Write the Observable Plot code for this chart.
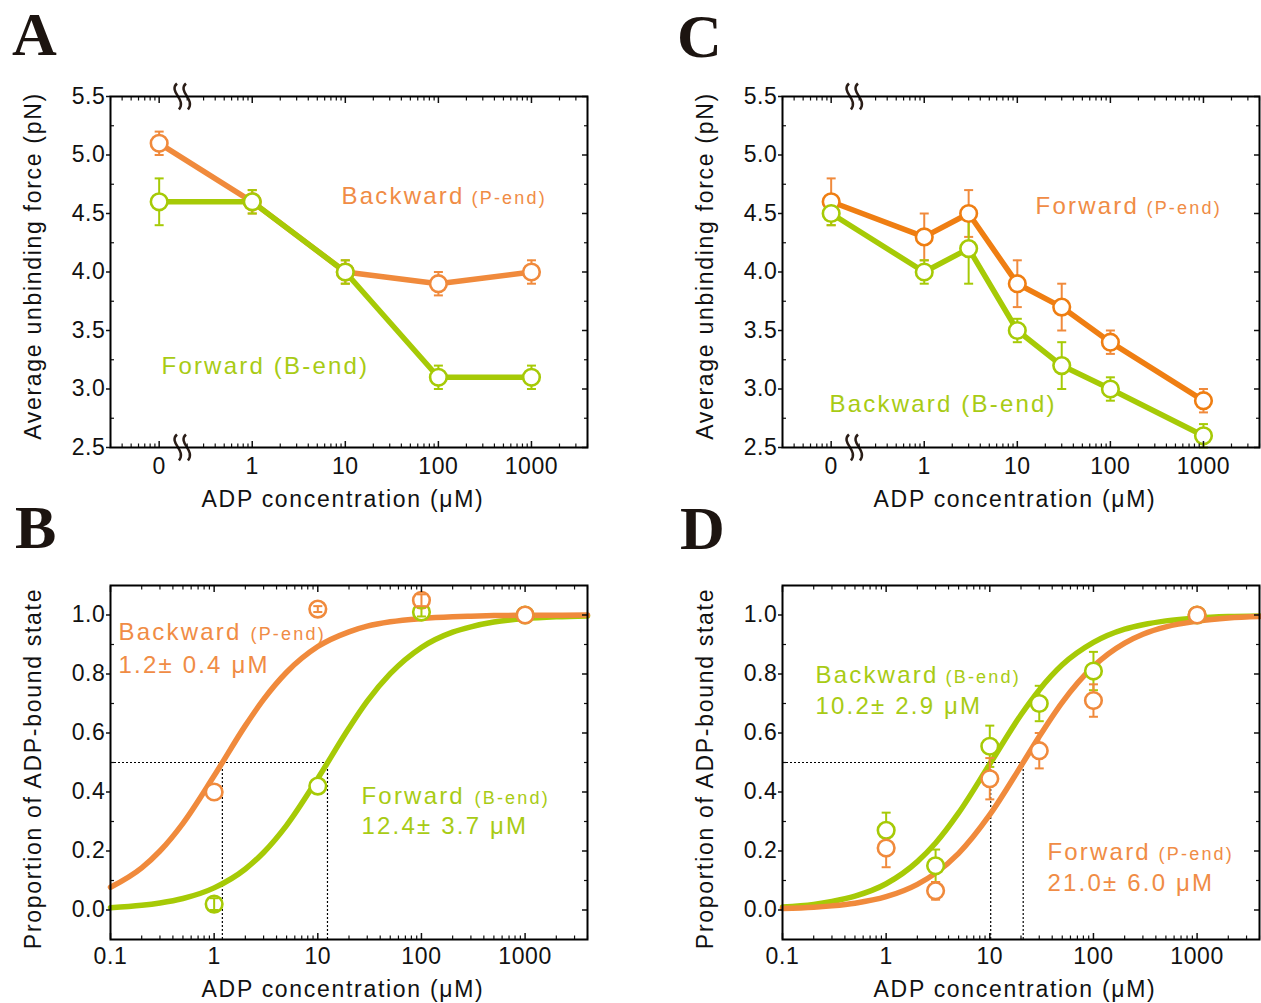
<!DOCTYPE html>
<html><head><meta charset="utf-8">
<script src="https://cdn.jsdelivr.net/npm/d3@7"></script>
<script src="https://cdn.jsdelivr.net/npm/@observablehq/plot@0.6"></script>
<style>
html,body{margin:0;padding:0;background:#fff;overflow:hidden}
#root{position:relative;width:1261px;height:1003px;font-family:'Liberation Sans',Arial,sans-serif}
.panel{position:absolute}
.letter{position:absolute;font-family:'Liberation Serif','Times New Roman',serif;font-weight:bold;font-size:62px;line-height:62px;color:#1c1410}
.panel svg text{letter-spacing:1.7px}
.panel svg g[aria-label$="tick label"] text{letter-spacing:0.6px}
.panel svg g[font-size="24"] text,.panel svg g[font-size="18"] text{letter-spacing:2.2px}
</style></head><body><div id="root"></div>
<script>
// ---------- Panel A : average unbinding force vs ADP ----------
const concA = [0, 1, 10, 100, 1000];
const backwardP_A = [5.1, 4.6, 4.0, 3.9, 4.0];
const backwardP_A_err = [0.1, 0.1, 0.1, 0.1, 0.1];
const forwardB_A = [4.6, 4.6, 4.0, 3.1, 3.1];
const forwardB_A_err = [0.2, 0.1, 0.1, 0.1, 0.1];

// ---------- Panel C ----------
const concC = [0, 1, 3, 10, 30, 100, 1000];
const forwardP_C = [4.6, 4.3, 4.5, 3.9, 3.7, 3.4, 2.9];
const forwardP_C_err = [0.2, 0.2, 0.2, 0.2, 0.2, 0.1, 0.1];
const backwardB_C = [4.5, 4.0, 4.2, 3.5, 3.2, 3.0, 2.6];
const backwardB_C_err = [0.1, 0.1, 0.3, 0.1, 0.2, 0.1, 0.1];

// ---------- Panel B : proportion of ADP-bound state ----------
const concB = [1, 10, 100, 1000];
const backwardP_B = [0.40, 1.02, 1.05, 1.0];
const backwardP_B_err = [0, 0.01, 0.02, 0];
const forwardB_B = [0.02, 0.42, 1.01, 1.0];
const forwardB_B_err = [0.02, 0, 0.015, 0];
const kdBackwardP_B = 1.2;
const kdForwardB_B = 12.4;

// ---------- Panel D ----------
const concD = [1, 3, 10, 30, 100, 1000];
const backwardB_D = [0.27, 0.15, 0.555, 0.70, 0.81, 1.0];
const backwardB_D_err = [0.06, 0.055, 0.07, 0.06, 0.065, 0];
const forwardP_D = [0.21, 0.065, 0.445, 0.54, 0.71, 1.0];
const forwardP_D_err = [0.065, 0.03, 0.07, 0.06, 0.055, 0];
const kdBackwardB_D = 10.2;
const kdForwardP_D = 21.0;

// fitted binding curves
const curveConc = [0.1,0.2,0.3,0.5,1,2,3,5,10,20,30,50,100,200,300,500,1000,2000,4000];
const fitBackwardP_B = [0.077,0.143,0.200,0.294,0.455,0.625,0.714,0.806,0.893,0.943,0.962,0.977,0.988,0.994,0.996,0.998,0.999,0.999,1.000];
const fitForwardB_B = [0.008,0.016,0.024,0.039,0.075,0.139,0.195,0.287,0.446,0.617,0.708,0.801,0.890,0.942,0.960,0.976,0.988,0.994,0.997];
const fitBackwardB_D = [0.010,0.019,0.029,0.047,0.089,0.164,0.227,0.329,0.495,0.662,0.746,0.831,0.907,0.952,0.967,0.980,0.990,0.995,0.997];
const fitForwardP_D = [0.005,0.009,0.014,0.023,0.045,0.087,0.125,0.192,0.323,0.488,0.588,0.704,0.826,0.905,0.935,0.960,0.979,0.990,0.995];

// axis ticks
const forceTicks = [2.5, 3.0, 3.5, 4.0, 4.5, 5.0, 5.5];
const forceMinor = [2.75, 3.25, 3.75, 4.25, 4.75, 5.25];
const propTicks = [0.0, 0.2, 0.4, 0.6, 0.8, 1.0];
const propMinor = [0.1, 0.3, 0.5, 0.7, 0.9];
const concTicks = [0.1, 1, 10, 100, 1000];
const ZERO_POS = 0.1;   // "0" concentration is drawn at the axis-break position
const BREAK_POS = 0.178;

const ORANGE = "#F08A3C", ORANGE_C = "#EF7E12", GREEN = "#A6CA06";
const ORANGE_T = "#F08C45", GREEN_T = "#A8CB14";

const series = (conc, vals, errs) => conc.map((c, i) => ({x: c === 0 ? ZERO_POS : c, y: vals[i], err: errs[i]}));
const curve = (vals) => curveConc.map((c, i) => ({x: c, y: vals[i]}));
const logMinor = (lo, hi) => d3.scaleLog().domain([lo, hi]).ticks().filter(v => {const e = Math.log10(v); return Math.abs(e - Math.round(e)) > 1e-9 && v >= lo && v <= hi;});

const capSymbol = {draw(ctx, size) {const w = Math.sqrt(size / Math.PI); ctx.moveTo(-w, 0); ctx.lineTo(w, 0);}};
// axis-break glyph: two S-shaped strokes
const breakSymbol = {draw(ctx) {
  for (const ox of [-4.5, 4.5]) {
    ctx.moveTo(ox - 1, -13);
    ctx.bezierCurveTo(ox - 10, -5, ox + 9, 3, ox + 1, 13);
  }
}};

function errMarks(rows, color) {
  const r = rows.filter(d => d.err > 0);
  return [
    Plot.ruleX(r, {x: "x", y1: d => d.y - d.err, y2: d => d.y + d.err, stroke: color, strokeWidth: 2}),
    Plot.dot(r, {x: "x", y: d => d.y + d.err, symbol: capSymbol, r: 4.5, stroke: color, strokeWidth: 2, fill: "none"}),
    Plot.dot(r, {x: "x", y: d => d.y - d.err, symbol: capSymbol, r: 4.5, stroke: color, strokeWidth: 2, fill: "none"})
  ];
}
const dots = (rows, color) => Plot.dot(rows, {x: "x", y: "y", r: 8.3, fill: "white", stroke: color, strokeWidth: 2.6});
const label = (text, x, y, color, size) => Plot.text([text], {x: () => x, y: () => y, text: d => d, fill: color, fontSize: size, textAnchor: "start", lineAnchor: "bottom"});

function frameMarks(cfg) {
  const xMinor = logMinor(cfg.xDomain[0], cfg.xDomain[1]);
  return [
    Plot.axisX(concTicks, {anchor: "bottom", tickSize: 0, tickPadding: cfg.xPad, tickFormat: cfg.xFormat, fontSize: 23, fill: "#111", label: null}),
    Plot.axisX(concTicks, {anchor: "bottom", tickSize: -6, fill: "none", strokeWidth: 1.5, label: null}),
    Plot.axisX(xMinor, {anchor: "bottom", tickSize: -3.5, fill: "none", strokeWidth: 1.2, label: null}),
    Plot.axisX(concTicks, {anchor: "top", tickSize: -6, fill: "none", strokeWidth: 1.5, label: null}),
    Plot.axisX(xMinor, {anchor: "top", tickSize: -3.5, fill: "none", strokeWidth: 1.2, label: null}),
    Plot.axisY(cfg.yTicks, {anchor: "left", tickSize: 0, tickPadding: 5, tickFormat: d => d.toFixed(1), fontSize: 23, fill: "#111", label: null}),
    Plot.axisY(cfg.yTicks, {anchor: "left", tickSize: 4, fill: "none", strokeWidth: 1.5, label: null}),
    Plot.axisY(cfg.yMinor, {anchor: "left", tickSize: -4, fill: "none", strokeWidth: 1.2, label: null}),
    Plot.axisY(cfg.yTicks, {anchor: "right", tickSize: -6, fill: "none", strokeWidth: 1.5, label: null}),
    Plot.axisY(cfg.yMinor, {anchor: "right", tickSize: -4, fill: "none", strokeWidth: 1.2, label: null}),
    Plot.frame({stroke: "#000", strokeWidth: 2}),
    Plot.text([cfg.yTitle], {frameAnchor: "left", textAnchor: "middle", lineAnchor: "middle", rotate: -90, dx: -77, dy: cfg.yTitleDy, fontSize: 23, fill: "#111"}),
    Plot.text(["ADP concentration (μM)"], {frameAnchor: "bottom", textAnchor: "middle", dx: -6, dy: cfg.xTitleDy, lineAnchor: "bottom", fontSize: 23, fill: "#111"})
  ];
}

function makePanel(cfg, dataMarks) {
  const plot = Plot.plot({
    width: cfg.width, height: 520,
    marginLeft: 110, marginRight: cfg.marginRight, marginTop: 96, marginBottom: cfg.marginBottom,
    x: {type: "log", domain: cfg.xDomain, axis: null, label: null},
    y: {domain: cfg.yDomain, axis: null, label: null},
    style: {fontFamily: "'Liberation Sans', Arial, sans-serif", fontSize: "22px", color: "#111", background: "transparent", overflow: "visible"},
    marks: [...dataMarks, ...frameMarks(cfg)]
  });
  const div = document.createElement("div");
  div.className = "panel";
  div.style.left = cfg.left + "px";
  div.style.top = cfg.top + "px";
  div.appendChild(plot);
  document.getElementById("root").appendChild(div);
}

function letter(ch, left, top) {
  const d = document.createElement("div");
  d.className = "letter"; d.textContent = ch;
  d.style.left = left + "px"; d.style.top = top + "px";
  document.getElementById("root").appendChild(d);
}

const forceCfg = {xDomain: [0.03, 4000], yDomain: [2.5, 5.5], yTicks: forceTicks, yMinor: forceMinor,
  xFormat: d => d === ZERO_POS ? "0" : String(d), xPad: 10, marginBottom: 73,
  yTitle: "Average unbinding force (pN)", yTitleDy: -6, xTitleDy: 59};
const propCfg = {xDomain: [0.1, 4000], yDomain: [-0.1, 1.1], yTicks: propTicks, yMinor: propMinor,
  xFormat: d => String(d), xPad: 8, marginBottom: 70,
  yTitle: "Proportion of ADP-bound state", yTitleDy: 6, xTitleDy: 57};

const breakMarks = () => Plot.dot([{x: BREAK_POS, y: 5.5}, {x: BREAK_POS, y: 2.5}],
  {x: "x", y: "y", symbol: breakSymbol, r: 10, stroke: "#2a1d17", strokeWidth: 2.5, fill: "none"});

// Panel A
const aBack = series(concA, backwardP_A, backwardP_A_err);
const aFwd = series(concA, forwardB_A, forwardB_A_err);
makePanel({...forceCfg, left: 0, top: 0, width: 620, marginRight: 33}, [
  Plot.line(aBack, {x: "x", y: "y", stroke: ORANGE, strokeWidth: 5.5}),
  Plot.line(aFwd, {x: "x", y: "y", stroke: GREEN, strokeWidth: 5.5}),
  ...errMarks(aBack, ORANGE), ...errMarks(aFwd, GREEN),
  dots(aBack, ORANGE), dots(aFwd, GREEN),
  label("Backward", 9.1, 4.585, ORANGE_T, 24),
  label("(P-end)", 227, 4.585, ORANGE_T, 18),
  label("Forward (B-end)", 0.106, 3.132, GREEN_T, 24),
  breakMarks()
]);

// Panel C
const cFwd = series(concC, forwardP_C, forwardP_C_err);
const cBack = series(concC, backwardB_C, backwardB_C_err);
makePanel({...forceCfg, left: 672, top: 0, width: 589, marginRight: 2}, [
  Plot.line(cFwd, {x: "x", y: "y", stroke: ORANGE_C, strokeWidth: 5.5}),
  Plot.line(cBack, {x: "x", y: "y", stroke: GREEN, strokeWidth: 5.5}),
  ...errMarks(cFwd, ORANGE), ...errMarks(cBack, GREEN),
  dots(cFwd, ORANGE_C), dots(cBack, GREEN),
  label("Forward", 15.7, 4.50, ORANGE_T, 24),
  label("(P-end)", 244, 4.50, ORANGE_T, 18),
  label("Backward (B-end)", 0.096, 2.80, GREEN_T, 24),
  breakMarks()
]);

// Panel B
const bBack = series(concB, backwardP_B, backwardP_B_err);
const bFwd = series(concB, forwardB_B, forwardB_B_err);
const kdsB = [kdBackwardP_B, kdForwardB_B];
makePanel({...propCfg, left: 0, top: 489, width: 620, marginRight: 33}, [
  Plot.ruleY([0.5], {x1: 0.1, x2: d3.max(kdsB), stroke: "#000", strokeWidth: 1.2, strokeDasharray: "2,2"}),
  Plot.ruleX(kdsB, {y1: -0.1, y2: 0.5, stroke: "#000", strokeWidth: 1.2, strokeDasharray: "2,2"}),
  Plot.line(curve(fitForwardB_B), {x: "x", y: "y", stroke: GREEN, strokeWidth: 5.5, curve: "monotone-x"}),
  Plot.line(curve(fitBackwardP_B), {x: "x", y: "y", stroke: ORANGE, strokeWidth: 5.5, curve: "monotone-x"}),
  dots(bFwd, GREEN), dots(bBack, ORANGE),
  ...errMarks(bFwd, GREEN), ...errMarks(bBack, ORANGE),
  label("Backward", 0.1194, 0.914, ORANGE_T, 24),
  label("(P-end)", 2.24, 0.914, ORANGE_T, 18),
  label("1.2± 0.4 μM", 0.1194, 0.805, ORANGE_T, 24),
  label("Forward", 26.4, 0.361, GREEN_T, 24),
  label("(B-end)", 325, 0.361, GREEN_T, 18),
  label("12.4± 3.7 μM", 26.4, 0.256, GREEN_T, 24)
]);

// Panel D
const dBack = series(concD, backwardB_D, backwardB_D_err);
const dFwd = series(concD, forwardP_D, forwardP_D_err);
const kdsD = [kdBackwardB_D, kdForwardP_D];
makePanel({...propCfg, left: 672, top: 489, width: 589, marginRight: 2}, [
  Plot.ruleY([0.5], {x1: 0.1, x2: d3.max(kdsD), stroke: "#000", strokeWidth: 1.2, strokeDasharray: "2,2"}),
  Plot.ruleX(kdsD, {y1: -0.1, y2: 0.5, stroke: "#000", strokeWidth: 1.2, strokeDasharray: "2,2"}),
  Plot.line(curve(fitBackwardB_D), {x: "x", y: "y", stroke: GREEN, strokeWidth: 5.5, curve: "monotone-x"}),
  Plot.line(curve(fitForwardP_D), {x: "x", y: "y", stroke: ORANGE, strokeWidth: 5.5, curve: "monotone-x"}),
  ...errMarks(dBack, GREEN), ...errMarks(dFwd, ORANGE),
  dots(dBack, GREEN), dots(dFwd, ORANGE),
  label("Backward", 0.208, 0.771, GREEN_T, 24),
  label("(B-end)", 3.74, 0.771, GREEN_T, 18),
  label("10.2± 2.9 μM", 0.208, 0.666, GREEN_T, 24),
  label("Forward", 36, 0.171, ORANGE_T, 24),
  label("(P-end)", 425, 0.171, ORANGE_T, 18),
  label("21.0± 6.0 μM", 36, 0.066, ORANGE_T, 24)
]);

letter("A", 12, 3);
letter("B", 15, 496);
letter("C", 677, 5);
letter("D", 680, 497);
</script></body></html>
